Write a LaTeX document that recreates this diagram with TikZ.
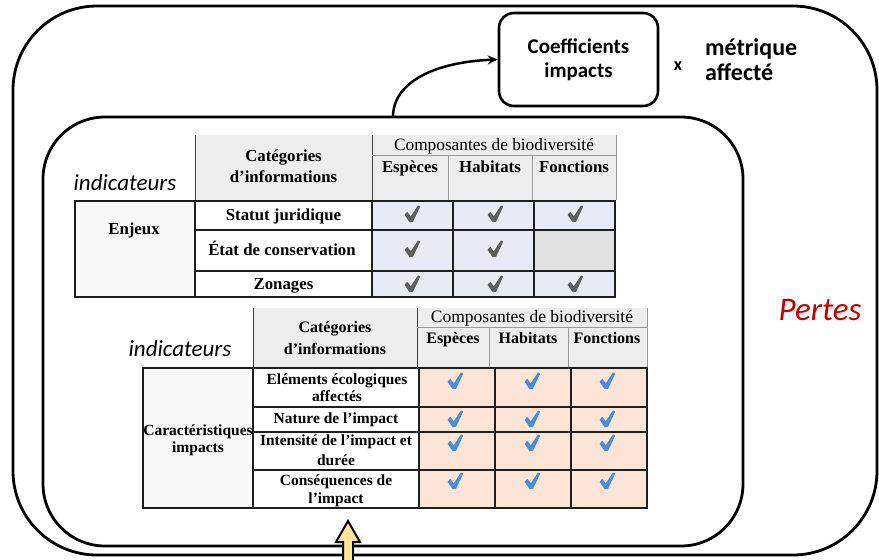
\documentclass[tikz,border=0pt]{standalone}
\usepackage{fontspec}
\setmainfont{Liberation Serif}
\newfontfamily\tabf{Liberation Serif}
\newfontfamily\carl{Carlito}
\usetikzlibrary{arrows.meta}
\definecolor{hdrgray}{HTML}{EDEDED}
\definecolor{hdrline}{HTML}{9A9A9A}
\definecolor{leftgray}{HTML}{F8F8F8}
\definecolor{lav}{HTML}{E8EAF6}
\definecolor{emptygray}{HTML}{E1E1E1}
\definecolor{peach}{HTML}{FCE4D6}
\definecolor{chkgray}{HTML}{5E5E5E}
\definecolor{chkblue}{HTML}{4A8ED8}
\definecolor{pertesred}{HTML}{C00000}
\definecolor{yel}{HTML}{FFE699}
\definecolor{tabline}{HTML}{1E1E1E}
\tikzset{
  bigbox/.style={draw=black, line width=2.8pt},
  hline/.style={draw=hdrline, line width=0.8pt},
  dline/.style={draw=tabline, line width=2pt},
  tbA/.style={font=\tabf\bfseries\fontsize{16.8}{19}\selectfont, inner sep=0pt, anchor=base},
  trA/.style={font=\tabf\fontsize{17.3}{19}\selectfont, inner sep=0pt, anchor=base},
  thB/.style={font=\tabf\bfseries\fontsize{16}{19}\selectfont, inner sep=0pt, anchor=base},
  tbB/.style={font=\tabf\bfseries\fontsize{15.5}{18}\selectfont, inner sep=0pt, anchor=base},
  trB/.style={font=\tabf\fontsize{17.5}{19}\selectfont, inner sep=0pt, anchor=base},
  ind/.style={font=\carl\itshape\fontsize{23}{26}\selectfont, inner sep=0pt, anchor=base},
  chk/.pic={\fill (-7.5,0.8) -- (-4.7,-2.2) -- (-1.2,2.2) -- (6,-8.6) -- (8.2,-7.4) -- (1,7.8) -- (-2.4,8.1) -- cycle;}
}
\begin{document}
\begin{tikzpicture}[x=1pt,y=-1pt]
\useasboundingbox (0,0) rectangle (879,560);
\fill[white] (0,0) rectangle (879,560);

% big frames
\draw[bigbox, rounded corners=84pt] (13,6) rectangle (877,555);
\draw[bigbox, rounded corners=62pt] (43,117) rectangle (743,546);

% coefficients box
\node[draw=black, line width=2.6pt, rounded corners=15pt, minimum width=159pt, minimum height=93pt,
      align=center, inner sep=0pt, font=\carl\bfseries\fontsize{21}{24}\selectfont] (coef) at (578.5,59.5) {Coefficients\\impacts};
\node[font=\carl\bfseries\fontsize{18}{20}\selectfont, inner sep=0pt] (times) at (678,66) {x};
\node[font=\carl\bfseries\fontsize{24}{25}\selectfont, align=left, inner sep=0pt, anchor=west] (metr) at (705,60) {métrique\\affecté};
\coordinate (arrstart) at (393,117);
\draw[line width=2.5pt, -{Stealth[length=10pt,width=9pt]}] (arrstart) .. controls (393,82) and (435,62) .. (coef.west);

\node[font=\carl\itshape\fontsize{33}{36}\selectfont, text=pertesred, inner sep=0pt] (pertes) at (820,310) {Pertes};

% ===== table 1 =====
\fill[hdrgray] (195,135) rectangle (616,200);
\draw[hline, draw=black!75] (195,135) -- (195,200);
\draw[hline, draw=black!75] (372,135) -- (372,200);
\draw[hline] (372,155) -- (616,155);
\draw[hline] (448,155) -- (448,200);
\draw[hline] (532,155) -- (532,200);
\draw[hline] (616,135) -- (616,200);
\fill[leftgray] (75,201) rectangle (195,297);
\fill[white] (195,201) rectangle (372,297);
\fill[lav] (372,201) rectangle (615,297);
\fill[emptygray] (534,230) rectangle (615,271);
\draw[dline] (75,201) rectangle (615,297);
\draw[dline] (195,201) -- (195,297);
\draw[dline] (372,201) -- (372,297);
\draw[dline] (453,201) -- (453,297);
\draw[dline] (534,201) -- (534,297);
\draw[dline] (195,230) -- (615,230);
\draw[dline] (195,271) -- (615,271);

\node[ind] (ind1) at (125,190) {indicateurs};
\node[tbA] (t1cata) at (283.5,161) {Catégories};
\node[tbA] (t1catb) at (283.5,182) {d’informations};
\node[trA] (t1comp) at (494,150) {Composantes de biodiversité};
\node[tbA] (t1esp) at (410,172) {Espèces};
\node[tbA] (t1hab) at (490,172) {Habitats};
\node[tbA] (t1fon) at (574,172) {Fonctions};
\node[tbA] (t1enj) at (134,234) {Enjeux};
\node[tbA] (t1r1) at (283.5,220) {Statut juridique};
\node[tbA] (t1r2) at (282,255) {État de conservation};
\node[tbA] (t1r3) at (283.5,289) {Zonages};
\foreach \y in {214,284} {
  \pic[color=chkgray] at (412,\y) {chk};
  \pic[color=chkgray] at (495,\y) {chk};
  \pic[color=chkgray] at (575,\y) {chk};
}
\pic[color=chkgray] at (412,249) {chk};
\pic[color=chkgray] at (495,249) {chk};

% ===== table 2 =====
\fill[hdrgray] (253,308) rectangle (647,368);
\draw[hline, draw=black!75] (253,308) -- (253,368);
\draw[hline, draw=black!75] (417,308) -- (417,368);
\draw[hline] (417,327) -- (647,327);
\draw[hline] (489,327) -- (489,368);
\draw[hline] (568,327) -- (568,368);
\draw[hline] (647,308) -- (647,368);
\fill[leftgray] (143,368) rectangle (253,508);
\fill[white] (253,368) rectangle (419,508);
\fill[peach] (419,368) rectangle (647,508);
\draw[dline] (143,368) rectangle (647,508);
\draw[dline] (253,368) -- (253,508);
\draw[dline] (419,368) -- (419,508);
\draw[dline] (495,368) -- (495,508);
\draw[dline] (571,368) -- (571,508);
\draw[dline] (253,407) -- (647,407);
\draw[dline] (253,432) -- (647,432);
\draw[dline] (253,470) -- (647,470);

\node[ind] (ind2) at (180,356) {indicateurs};
\node[thB] (t2cata) at (335,332) {Catégories};
\node[thB] (t2catb) at (335,354) {d’informations};
\node[trB] (t2comp) at (532,322) {Composantes de biodiversité};
\node[thB] (t2esp) at (453,343) {Espèces};
\node[thB] (t2hab) at (528,343) {Habitats};
\node[thB] (t2fon) at (607,343) {Fonctions};
\node[tbB] (t2cara) at (198,435) {Caractéristiques};
\node[tbB] (t2carb) at (198,452) {impacts};
\node[tbB] (t2r1a) at (337,384) {Eléments écologiques};
\node[tbB] (t2r1b) at (337,401) {affectés};
\node[tbB] (t2r2) at (336,423) {Nature de l’impact};
\node[tbB] (t2r3a) at (336,445) {Intensité de l’impact et};
\node[tbB] (t2r3b) at (336,465) {durée};
\node[tbB] (t2r4a) at (336,485) {Conséquences de};
\node[tbB] (t2r4b) at (336,503) {l’impact};
\foreach \y in {381,419,443,481} {
  \pic[color=chkblue] at (455,\y) {chk};
  \pic[color=chkblue] at (532,\y) {chk};
  \pic[color=chkblue] at (607,\y) {chk};
}

% yellow arrow
\filldraw[fill=yel, draw=black, line width=2pt, line join=miter]
  (343,562) -- (343,542) -- (336,542) -- (348,521) -- (360,542) -- (353,542) -- (353,562);
\end{tikzpicture}
\end{document}
